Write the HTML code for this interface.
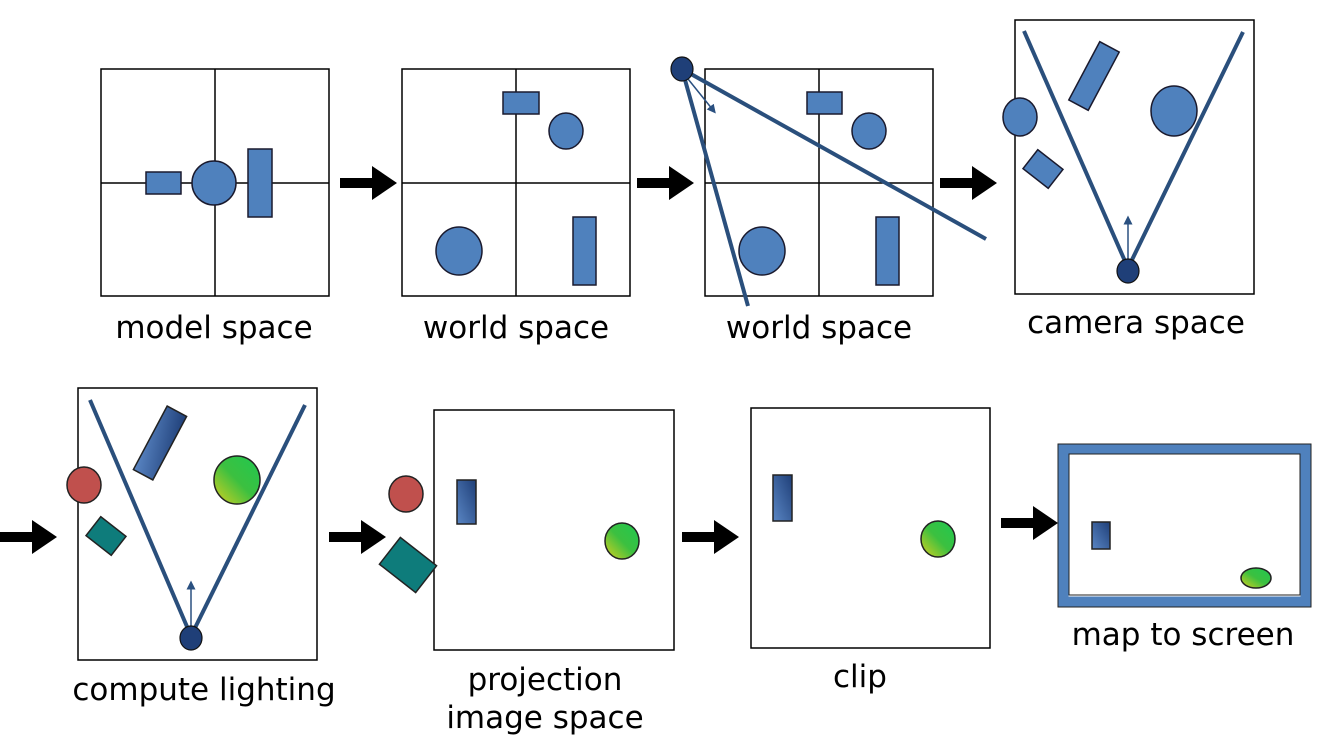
<!DOCTYPE html>
<html><head><meta charset="utf-8"><style>
html,body{margin:0;padding:0;background:#fff;}
svg{display:block;}
text{font-family:"DejaVu Sans","Liberation Sans",sans-serif;font-size:31px;fill:#000;text-anchor:middle;}
</style></head><body>
<svg width="1317" height="748" viewBox="0 0 1317 748" xmlns="http://www.w3.org/2000/svg">
<defs>
<linearGradient id="bg" x1="0" y1="1" x2="1" y2="0"><stop offset="0" stop-color="#5a86c4"/><stop offset="1" stop-color="#1f3f78"/></linearGradient>
<linearGradient id="gg" x1="0" y1="1" x2="1" y2="0"><stop offset="0" stop-color="#d8d020"/><stop offset="0.5" stop-color="#3cc040"/><stop offset="1" stop-color="#20c850"/></linearGradient>
<marker id="ah" markerWidth="6" markerHeight="6" refX="3" refY="3" orient="auto"><path d="M0,0 L6,3 L0,6 z" fill="#2a5080"/></marker>
</defs>
<g stroke="#000" stroke-width="1.5" fill="none">
<rect x="101" y="69" width="228" height="227"/><line x1="215" y1="69" x2="215" y2="296"/><line x1="101" y1="183" x2="329" y2="183"/>
<rect x="402" y="69" width="228" height="227"/><line x1="516" y1="69" x2="516" y2="296"/><line x1="402" y1="183" x2="630" y2="183"/>
<rect x="705" y="69" width="228" height="227"/><line x1="819" y1="69" x2="819" y2="296"/><line x1="705" y1="183" x2="933" y2="183"/>
<rect x="1015" y="20" width="239" height="274"/>
<rect x="78" y="388" width="239" height="272"/>
<rect x="434" y="410" width="240" height="240"/>
<rect x="751" y="408" width="239" height="240"/>
</g>
<g fill="#4f81bd" stroke="#1a1a2e" stroke-width="1.5">
<rect x="146" y="172" width="35" height="22"/><circle cx="214" cy="183" r="22"/><rect x="248" y="149" width="24" height="68"/>
<rect x="503" y="92" width="36" height="22"/><ellipse cx="566" cy="131" rx="17" ry="18"/><ellipse cx="459" cy="251" rx="23" ry="24"/><rect x="573" y="217" width="23" height="68"/>
<rect x="807" y="92" width="35" height="22"/><ellipse cx="869" cy="131" rx="17" ry="18"/><ellipse cx="762" cy="251" rx="23" ry="24"/><rect x="876" y="217" width="23" height="68"/>
<ellipse cx="1020" cy="117" rx="17" ry="19"/><ellipse cx="1174" cy="111" rx="23" ry="25"/>
<rect x="-11" y="-33" width="22" height="66" transform="translate(1094,76) rotate(28)"/>
<rect x="-16" y="-12" width="32" height="24" transform="translate(1043,169) rotate(38)"/>
</g>
<g stroke="#2a4f7c" stroke-width="4" fill="none">
<line x1="682" y1="69" x2="748" y2="306"/><line x1="682" y1="69" x2="986" y2="239"/>
<line x1="1128" y1="268" x2="1024" y2="31"/><line x1="1128" y1="268" x2="1243" y2="32"/>
<line x1="191" y1="636" x2="90" y2="400"/><line x1="191" y1="636" x2="305" y2="405"/>
</g>
<g stroke="#2a5080" stroke-width="1.5" marker-end="url(#ah)">
<line x1="684" y1="74" x2="713" y2="110"/>
<line x1="1128" y1="266" x2="1128" y2="220"/>
<line x1="191" y1="634" x2="191" y2="585"/>
</g>
<g fill="#1f3f78" stroke="#111" stroke-width="1.2">
<ellipse cx="682" cy="69" rx="11" ry="12"/><ellipse cx="1128" cy="271" rx="11" ry="12"/><ellipse cx="191" cy="638" rx="11" ry="12"/>
</g>
<g stroke="#222" stroke-width="1.5">
<ellipse cx="84" cy="485" rx="17" ry="18" fill="#c0504d"/>
<ellipse cx="237" cy="480" rx="23" ry="24" fill="url(#gg)"/>
<rect x="-11" y="-36" width="22" height="72" transform="translate(160,443) rotate(28)" fill="url(#bg)"/>
<rect x="-16" y="-12" width="32" height="24" transform="translate(106,536) rotate(38)" fill="#0e7c7b"/>
<ellipse cx="406" cy="494" rx="17" ry="18" fill="#c0504d"/>
<rect x="457" y="480" width="19" height="44" fill="url(#bg)"/>
<rect x="-23" y="-17" width="46" height="34" transform="translate(408,565) rotate(38)" fill="#0e7c7b"/>
<ellipse cx="622" cy="541" rx="17" ry="18" fill="url(#gg)"/>
<rect x="773" y="475" width="19" height="46" fill="url(#bg)"/>
<ellipse cx="938" cy="539" rx="17" ry="18" fill="url(#gg)"/>
<rect x="1063" y="449" width="243" height="153" fill="none" stroke="#4f81bd" stroke-width="11"/>
<rect x="1058" y="444" width="253" height="163" fill="none" stroke="#222" stroke-width="1"/>
<rect x="1069" y="454" width="231" height="141" fill="none" stroke="#222" stroke-width="1"/>
<rect x="1092" y="522" width="18" height="27" fill="url(#bg)"/>
<ellipse cx="1256" cy="578" rx="15" ry="10" fill="url(#gg)"/>
</g>
<g fill="#000">
<path d="M340,178 h32 v-12 l25,17 l-25,17 v-12 h-32 z"/>
<path d="M637,178 h32 v-12 l25,17 l-25,17 v-12 h-32 z"/>
<path d="M940,178 h32 v-12 l25,17 l-25,17 v-12 h-32 z"/>
<path d="M0,532 h32 v-12 l25,17 l-25,17 v-12 h-32 z"/>
<path d="M329,532 h32 v-12 l25,17 l-25,17 v-12 h-32 z"/>
<path d="M682,532 h32 v-12 l25,17 l-25,17 v-12 h-32 z"/>
<path d="M1001,518 h32 v-12 l25,17 l-25,17 v-12 h-32 z"/>
</g>
<text x="214" y="338">model space</text>
<text x="516" y="338">world space</text>
<text x="819" y="338">world space</text>
<text x="1136" y="333">camera space</text>
<text x="204" y="700">compute lighting</text>
<text x="545" y="690">projection</text>
<text x="545" y="728">image space</text>
<text x="860" y="687">clip</text>
<text x="1183" y="645">map to screen</text>
</svg>
</body></html>
